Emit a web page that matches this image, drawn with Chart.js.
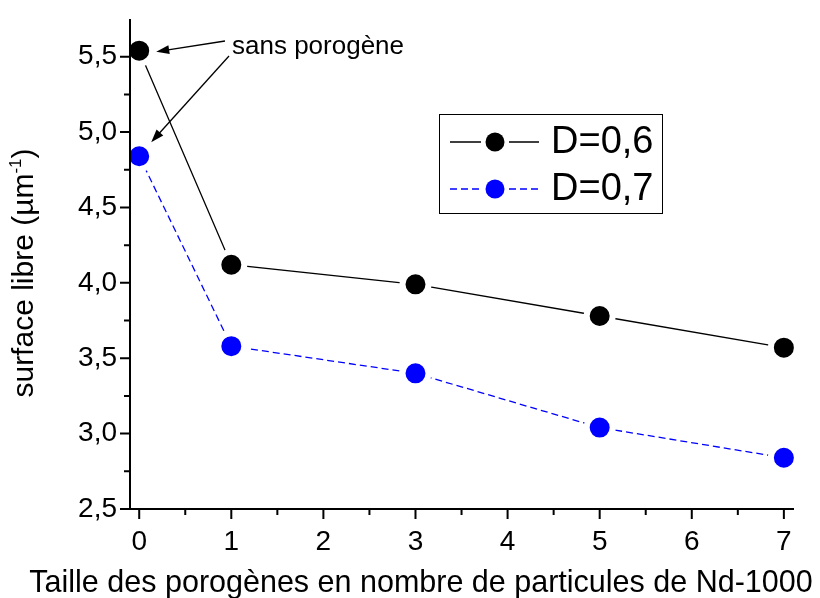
<!DOCTYPE html>
<html>
<head>
<meta charset="utf-8">
<script src="https://cdn.jsdelivr.net/npm/chart.js@4.4.1/dist/chart.umd.min.js"></script>
<style>
  html, body { margin: 0; padding: 0; background: #fff; }
  canvas { display: block; }
</style>
</head>
<body>
<canvas id="surfaceChart" width="820" height="598"></canvas>
<script>
// porogen size (number of Nd-1000 particles)
const poreSizes = [0, 1, 3, 5, 7]
const surfaceD06 = [5.54, 4.12, 3.99, 3.78, 3.57]
const surfaceD07 = [4.84, 3.58, 3.40, 3.04, 2.84]
const seriesNames = ['D=0,6', 'D=0,7']
const xTickStep = 1
const yTickStep = 0.5

const FONT = 'Arial, "Liberation Sans", sans-serif'

const toPoints = (xs, ys) => xs.map((x, i) => ({ x, y: ys[i] }))
const comma = v => String(v).replace('.', ',')

// axes, ticks (major + minor) drawn over the white rings of the markers
const axesPlugin = {
  id: 'axesFrame',
  afterDatasetsDraw(chart) {
    const { ctx, chartArea: a, scales } = chart
    const xs = scales.x, ys = scales.y
    ctx.save()
    ctx.strokeStyle = '#000'
    ctx.lineWidth = 2
    ctx.beginPath()
    ctx.moveTo(a.left, a.top)
    ctx.lineTo(a.left, a.bottom)
    ctx.lineTo(a.right, a.bottom)
    ctx.stroke()
    ctx.beginPath()
    xs.ticks.forEach(t => {
      const px = xs.getPixelForValue(t.value)
      ctx.moveTo(px, a.bottom); ctx.lineTo(px, a.bottom + 10)
      const m = xs.getPixelForValue(t.value + xTickStep / 2)
      if (m < a.right) { ctx.moveTo(m, a.bottom); ctx.lineTo(m, a.bottom + 6) }
    })
    ys.ticks.forEach(t => {
      const py = ys.getPixelForValue(t.value)
      ctx.moveTo(a.left, py); ctx.lineTo(a.left - 10, py)
      const m = ys.getPixelForValue(t.value + yTickStep / 2)
      if (m > a.top) { ctx.moveTo(a.left, m); ctx.lineTo(a.left - 6, m) }
    })
    ctx.stroke()
    ctx.restore()
  }
}

// axis titles, legend box and the "sans porogène" note
const decorPlugin = {
  id: 'decor',
  afterDraw(chart) {
    const { ctx } = chart
    ctx.save()
    ctx.fillStyle = '#000'

    // x title
    ctx.font = '30.5px ' + FONT
    ctx.textAlign = 'center'
    ctx.textBaseline = 'alphabetic'
    ctx.fillText('Taille des porogènes en nombre de particules de Nd-1000', 421, 592)

    // y title with superscript
    const main = 'surface libre (µm', sup = '-1', close = ')'
    ctx.font = '30px ' + FONT
    const w1 = ctx.measureText(main).width
    const w3 = ctx.measureText(close).width
    ctx.font = '17px ' + FONT
    const w2 = ctx.measureText(sup).width
    const total = w1 + w2 + w3
    ctx.translate(33, 273)
    ctx.rotate(-Math.PI / 2)
    ctx.textAlign = 'left'
    const x0 = -total / 2
    ctx.font = '30px ' + FONT
    ctx.fillText(main, x0, 0)
    ctx.font = '17px ' + FONT
    ctx.fillText(sup, x0 + w1, -12)
    ctx.font = '30px ' + FONT
    ctx.fillText(close, x0 + w1 + w2, 0)
    ctx.setTransform(1, 0, 0, 1, 0, 0)

    // legend
    ctx.lineWidth = 1
    ctx.strokeStyle = '#000'
    ctx.strokeRect(439.5, 114.5, 223, 99)
    const rows = [142, 189]
    chart.data.datasets.forEach((ds, i) => {
      const y = rows[i]
      ctx.strokeStyle = ds.borderColor
      ctx.lineWidth = 1.3
      ctx.setLineDash(ds.borderDash || [])
      ctx.beginPath()
      ctx.moveTo(450, y); ctx.lineTo(481, y)
      ctx.moveTo(509, y); ctx.lineTo(539, y)
      ctx.stroke()
      ctx.setLineDash([])
      ctx.fillStyle = ds.backgroundColor
      ctx.beginPath()
      ctx.arc(495, y, 9.5, 0, Math.PI * 2)
      ctx.fill()
      ctx.fillStyle = '#000'
      ctx.font = '38px ' + FONT
      ctx.textAlign = 'left'
      ctx.textBaseline = 'middle'
      ctx.fillText(ds.label, 551, y + 1)
    })

    // annotation with arrows to the x=0 points
    ctx.font = '26px ' + FONT
    ctx.textAlign = 'left'
    ctx.textBaseline = 'alphabetic'
    ctx.fillText('sans porogène', 232, 54)
    const p0 = chart.getDatasetMeta(0).data[0]
    const p1 = chart.getDatasetMeta(1).data[0]
    drawArrow(ctx, 225, 41, p0.x + 17, p0.y + 1)
    drawArrow(ctx, 229, 56, p1.x + 12, p1.y - 14)
    ctx.restore()
  }
}

function drawArrow(ctx, x1, y1, x2, y2) {
  const ang = Math.atan2(y2 - y1, x2 - x1)
  const len = 13, half = 4.5
  ctx.strokeStyle = '#000'
  ctx.fillStyle = '#000'
  ctx.lineWidth = 1.3
  ctx.beginPath()
  ctx.moveTo(x1, y1)
  ctx.lineTo(x2 - Math.cos(ang) * len * 0.8, y2 - Math.sin(ang) * len * 0.8)
  ctx.stroke()
  ctx.beginPath()
  ctx.moveTo(x2, y2)
  ctx.lineTo(x2 - Math.cos(ang) * len - Math.sin(ang) * half, y2 - Math.sin(ang) * len + Math.cos(ang) * half)
  ctx.lineTo(x2 - Math.cos(ang) * len + Math.sin(ang) * half, y2 - Math.sin(ang) * len - Math.cos(ang) * half)
  ctx.closePath()
  ctx.fill()
}

const ctx = document.getElementById('surfaceChart')
new Chart(ctx, {
  type: 'scatter',
  data: {
    datasets: [
      {
        label: seriesNames[0],
        data: toPoints(poreSizes, surfaceD06),
        showLine: true,
        borderColor: '#000000',
        backgroundColor: '#000000',
        borderWidth: 1.3,
        pointRadius: 13,
        pointHoverRadius: 13,
        pointBorderWidth: 6,
        pointBorderColor: '#ffffff',
        pointBackgroundColor: '#000000',
        clip: false
      },
      {
        label: seriesNames[1],
        data: toPoints(poreSizes, surfaceD07),
        showLine: true,
        borderColor: '#0000ff',
        backgroundColor: '#0000ff',
        borderWidth: 1.3,
        borderDash: [7, 4],
        pointRadius: 13,
        pointHoverRadius: 13,
        pointBorderWidth: 6,
        pointBorderColor: '#ffffff',
        pointBackgroundColor: '#0000ff',
        clip: false
      }
    ]
  },
  options: {
    responsive: false,
    animation: false,
    events: [],
    layout: { padding: { left: 0, right: 26, top: 19, bottom: 0 } },
    plugins: {
      legend: { display: false },
      tooltip: { enabled: false }
    },
    scales: {
      x: {
        type: 'linear',
        min: -0.1,
        max: 7.11,
        grid: { display: false, drawTicks: false },
        border: { display: false },
        ticks: {
          stepSize: xTickStep,
          includeBounds: false,
          autoSkip: false,
          padding: 16,
          color: '#000',
          font: { family: FONT, size: 28 },
          callback: v => comma(v)
        },
        afterFit: s => { s.height = 89; s.paddingLeft = 0; s.paddingRight = 0 }
      },
      y: {
        type: 'linear',
        min: 2.5,
        max: 5.75,
        grid: { display: false, drawTicks: false },
        border: { display: false },
        ticks: {
          stepSize: yTickStep,
          includeBounds: false,
          autoSkip: false,
          padding: 13,
          color: '#000',
          font: { family: FONT, size: 28 },
          callback: v => comma(v.toFixed(1))
        },
        afterFit: s => { s.width = 130; s.paddingTop = 0; s.paddingBottom = 0 }
      }
    }
  },
  plugins: [axesPlugin, decorPlugin]
})
</script>
</body>
</html>
